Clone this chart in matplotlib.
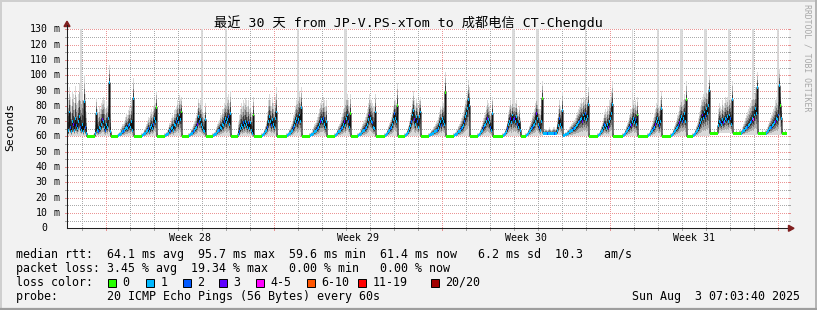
import numpy as np
import matplotlib
matplotlib.use("Agg")
import matplotlib.pyplot as plt
from matplotlib.patches import Polygon, Rectangle
from matplotlib.lines import Line2D

# ---------------- data (one sample per hour, 30 days) ----------------
med_ms = [
    62, 64, 76, 66, 63, 70, 68, 64, 72, 67, 65, 70, 73, 66, 64, 68, 63, 83, 66, 62,
    60, 60, 60, 60, 60, 60, 60, 60,
    62, 75, 64, 63, 66, 65, 68, 71, 70, 66, 64, 68, 66, 72, 95, 63,
    60, 60, 60, 60, 60, 60, 60,
    60.5, 61, 61, 62, 63, 63, 64, 65, 66, 65, 67, 68, 66, 70, 64, 85,
    60, 60, 60, 60, 60, 60, 60, 60,
    60.5, 61, 62, 62, 63, 64, 65, 63, 66, 67, 65, 68, 72, 70, 79,
    60, 60, 60, 60, 60, 60, 60, 60,
    60.5, 61, 61, 62, 64, 63, 65, 66, 64, 68, 67, 70, 72, 69, 74, 71, 76,
    60, 60, 60, 60, 60, 60, 60,
    60.5, 61, 62, 62, 63, 64, 65, 66, 68, 73, 70, 71, 68, 66, 64, 63, 71,
    60, 60, 60, 60, 60, 60, 60,
    60.5, 61, 61, 62, 63, 64, 64, 66, 65, 68, 67, 70, 72, 69, 71, 73, 68, 75,
    60, 60, 60, 60, 60, 60, 60,
    61, 63, 65, 67, 66, 69, 67, 70, 68, 66, 69, 65, 69, 64, 62, 74,
    60, 60, 60, 60, 60, 60, 60, 60,
    60.5, 61, 62, 63, 64, 66, 70, 73, 70, 67, 71, 68, 66, 72, 76,
    60, 60, 60, 60, 60, 60, 60, 60, 60, 60,
    60.5, 61, 62, 62, 63, 64, 66, 67, 70, 72, 69, 71, 74, 70, 79,
    60, 60, 60, 60, 60, 60, 60, 60,
    60.5, 61, 61, 62, 63, 63, 64, 65, 66, 68, 70, 71, 70, 72, 68, 66, 70,
    60, 60, 60, 60, 60, 60, 60, 60,
    60.5, 61, 62, 63, 63, 64, 65, 66, 68, 70, 67, 72, 74, 70, 66, 75,
    60, 60, 60, 60, 60, 60, 60,
    60.5, 61, 61, 62, 63, 64, 64, 65, 66, 68, 71, 74, 72, 70, 69, 66, 65, 76,
    60, 60, 60, 60, 60, 60, 60, 60, 60,
    60.5, 61, 62, 63, 64, 65, 66, 68, 71, 75, 72, 70, 80,
    60, 60, 60, 60, 60, 60, 60,
    60.5, 61, 62, 63, 65, 67, 70, 74, 77, 71, 68, 73, 70, 66, 73, 76,
    60, 60, 60, 60, 60, 60, 60, 60,
    60.5, 61, 61.5, 62, 62, 63, 63, 64, 64, 65, 68, 70, 67, 72, 70, 68, 89,
    60, 60, 60, 60, 60, 60, 60, 60,
    60.5, 61, 61, 62, 63, 63, 64, 65, 66, 67, 70, 73, 75, 78, 84, 80,
    60, 60, 60, 60, 60, 60, 60, 60,
    60.5, 61, 62, 63, 64, 66, 67, 68, 70, 72, 71, 69, 66, 64, 75,
    60, 60, 60, 60, 60, 60, 60, 60, 60, 60,
    60.5, 61, 62, 63, 65, 68, 70, 72, 69, 74, 71, 72, 70, 73, 68, 66, 70, 64,
    60, 60, 60, 60, 60,
    60.5, 61, 62, 63, 64, 65, 66, 67, 68, 70, 75, 72, 68, 66, 64, 70, 85,
    62, 62, 62, 62, 62, 62, 62, 62, 62, 62, 62, 62, 62, 62,
    64, 67, 72, 68, 66, 77,
    60.5, 60.5, 61, 61, 62, 62, 63, 63, 64, 64, 65, 65, 66, 67, 68, 69, 70, 71, 72, 70, 74, 72, 75, 71, 73, 81,
    60, 60, 60, 60, 60, 60, 60, 60, 60,
    60.5, 61, 62, 63, 64, 66, 68, 67, 65, 68, 66, 70, 72, 75, 81,
    60, 60, 60, 60, 60, 60, 60, 60, 60, 60,
    60.5, 61, 62, 63, 64, 65, 66, 68, 67, 70, 72, 69, 71, 68, 74,
    60, 60, 60, 60, 60, 60, 60, 60, 60, 60,
    60.5, 61, 62, 63, 64, 65, 66, 68, 70, 72, 69, 67, 70, 78,
    60, 60, 60, 60, 60, 60, 60, 60, 60,
    60.5, 61, 62, 63, 64, 65, 66, 67, 69, 71, 73, 70, 72, 75, 70, 84,
    60, 60, 60, 60, 60, 60,
    60.5, 61, 62, 63, 64, 65, 67, 69, 71, 74, 72, 76, 73, 78, 75, 80, 90,
    62, 62, 62, 62, 62, 62, 62, 62,
    67, 70, 69, 68, 71, 69, 70, 72, 71, 73, 70, 74, 72, 68, 84,
    62, 62, 62, 62, 62, 62, 62, 62,
    62, 63, 64, 64, 65, 66, 66, 67, 68, 69, 70, 72, 71, 74, 78, 75, 92,
    62, 62, 62, 62, 62, 62, 62, 62,
    62, 63, 64, 65, 66, 66, 67, 68, 69, 70, 72, 71, 74, 93, 80, 72,
    62, 62, 62, 62, 62,
]

hi_ms = [
    75, 84, 92, 86, 80, 90, 88, 82, 93, 86, 82, 88, 95, 90, 88, 90, 84, 100, 88, 76,
    61.5, 61, 61, 61, 61, 61, 61.5, 62,
    70, 85, 78, 76, 80, 78, 82, 84, 86, 84, 78, 83, 80, 84, 107, 75,
    62, 61, 61, 61, 61, 61, 61.5,
    62, 63, 64, 66, 68, 68, 70, 73, 75, 74, 77, 80, 78, 84, 80, 98,
    62, 61, 61, 61, 61, 61, 61, 62,
    62, 63, 65, 66, 68, 70, 73, 72, 76, 78, 76, 80, 84, 82, 90,
    62, 61, 61, 61, 61, 61, 61, 62,
    62, 63, 64, 66, 69, 69, 72, 74, 73, 77, 78, 80, 84, 82, 87, 85, 86,
    62, 61, 61, 61, 61, 61, 62,
    62, 63, 65, 66, 68, 70, 72, 74, 78, 85, 82, 84, 82, 80, 75, 74, 82,
    62, 61, 61, 61, 61, 61, 62,
    62, 63, 64, 66, 68, 70, 71, 74, 74, 78, 78, 82, 84, 84, 86, 88, 82, 90,
    62, 61, 61, 61, 61, 61, 62,
    70, 74, 78, 82, 80, 84, 82, 85, 84, 80, 84, 78, 82, 76, 72, 86,
    62, 61, 61, 61, 61, 61, 61, 62,
    62, 63, 65, 67, 70, 76, 84, 88, 84, 80, 86, 82, 80, 86, 92,
    62, 61, 61, 61, 61, 61, 61, 61, 61, 62,
    62, 63, 65, 66, 68, 70, 74, 76, 80, 84, 86, 88, 90, 86, 92,
    62, 61, 61, 61, 61, 61, 61, 62,
    62, 63, 64, 66, 68, 69, 71, 73, 75, 78, 82, 84, 82, 86, 84, 80, 84,
    62, 61, 61, 61, 61, 61, 61, 62,
    62, 63, 65, 67, 68, 70, 73, 75, 78, 82, 86, 88, 88, 84, 80, 88,
    62, 61, 61, 61, 61, 61, 62,
    62, 63, 64, 66, 68, 70, 71, 73, 75, 78, 82, 88, 86, 84, 82, 80, 80, 88,
    62, 61, 61, 61, 61, 61, 61, 61, 62,
    62, 63, 65, 67, 69, 71, 73, 76, 80, 86, 84, 82, 95,
    62, 61, 61, 61, 61, 61, 62,
    62, 63, 65, 67, 70, 74, 78, 84, 90, 84, 80, 85, 82, 78, 84, 86,
    62, 61, 61, 61, 61, 61, 61, 62,
    62, 63, 64, 65, 66, 67, 68, 70, 71, 73, 76, 80, 78, 83, 82, 80, 102,
    62, 61, 61, 61, 61, 61, 61, 62,
    62, 63, 64, 65, 67, 68, 70, 72, 74, 76, 80, 84, 86, 90, 97, 92,
    62, 61, 61, 61, 61, 61, 61, 62,
    62, 63, 65, 67, 69, 72, 74, 76, 80, 84, 82, 80, 76, 74, 86,
    62, 61, 61, 61, 61, 61, 61, 61, 61, 62,
    62, 63, 65, 67, 70, 76, 80, 84, 80, 84, 82, 82, 82, 84, 78, 76, 80, 72,
    62, 61, 61, 61, 62,
    62, 63, 65, 67, 69, 71, 74, 76, 78, 82, 86, 84, 82, 78, 78, 84, 96,
    64, 64, 65, 65, 64, 65, 66, 65, 64, 65, 66, 66, 65, 66,
    72, 78, 84, 80, 76, 90,
    62, 62, 63, 63, 64, 65, 66, 67, 68, 69, 70, 71, 72, 74, 76, 78, 80, 82, 85, 82, 86, 84, 88, 84, 86, 92,
    62, 61, 61, 61, 61, 61, 61, 61, 62,
    62, 63, 65, 67, 69, 72, 76, 78, 76, 80, 78, 84, 86, 90, 96,
    62, 61, 61, 61, 61, 61, 61, 61, 61, 62,
    62, 63, 65, 67, 69, 71, 74, 78, 78, 82, 84, 82, 84, 80, 86,
    62, 61, 61, 61, 61, 61, 61, 61, 61, 62,
    62, 63, 65, 67, 69, 72, 75, 78, 82, 84, 82, 80, 84, 90,
    62, 61, 61, 61, 61, 61, 61, 61, 62,
    62, 63, 65, 67, 69, 71, 74, 76, 80, 84, 86, 84, 84, 88, 84, 96,
    62, 61, 61, 61, 61, 62,
    62, 63, 65, 67, 69, 72, 76, 80, 84, 86, 88, 90, 90, 92, 88, 92, 100,
    64, 63, 63, 63, 64, 63, 63, 64,
    78, 82, 80, 78, 84, 80, 82, 86, 84, 86, 84, 88, 86, 80, 96,
    64, 63, 63, 64, 63, 63, 64, 64,
    64, 66, 68, 70, 72, 74, 76, 78, 80, 82, 84, 88, 90, 88, 92, 88, 102,
    64, 63, 63, 63, 64, 63, 63, 64,
    64, 66, 68, 70, 72, 74, 76, 78, 80, 84, 86, 84, 86, 104, 92, 82,
    64, 63, 63, 64, 63,
]

lo_ms = [
    60.5, 60.5, 60.5, 60.5, 60.5, 60.5, 60.5, 60.5, 60.5, 60.5, 60.5, 60.5, 60.5, 60.5, 60.5, 60.5, 60.5, 60.5, 60.5, 60.5,
    59.6, 59.6, 59.6, 59.6, 59.6, 59.6, 59.6, 59.6,
    60, 60, 60, 60, 60, 60, 60, 60, 60, 60, 60, 60, 60, 60, 60, 60,
    59.6, 59.6, 59.6, 59.6, 59.6, 59.6, 59.6,
    60, 60, 60, 60, 60, 60, 60, 60, 60, 60, 60, 60, 60, 60, 60, 60,
    59.6, 59.6, 59.6, 59.6, 59.6, 59.6, 59.6, 59.6,
    60, 60, 60, 60, 60, 60, 60, 60, 60, 60, 60, 60, 60, 60, 60,
    59.6, 59.6, 59.6, 59.6, 59.6, 59.6, 59.6, 59.6,
    60, 60, 60, 60, 60, 60, 60, 60, 60, 60, 60, 60, 60, 60, 60, 60, 60,
    59.6, 59.6, 59.6, 59.6, 59.6, 59.6, 59.6,
    60, 60, 60, 60, 60, 60, 60, 60, 60, 60, 60, 60, 60, 60, 60, 60, 60,
    59.6, 59.6, 59.6, 59.6, 59.6, 59.6, 59.6,
    60, 60, 60, 60, 60, 60, 60, 60, 60, 60, 60, 60, 60, 60, 60, 60, 60, 60,
    59.6, 59.6, 59.6, 59.6, 59.6, 59.6, 59.6,
    60, 60, 60, 60, 60, 60, 60, 60, 60, 60, 60, 60, 60, 60, 60, 60,
    59.6, 59.6, 59.6, 59.6, 59.6, 59.6, 59.6, 59.6,
    60, 60, 60, 60, 60, 60, 60, 60, 60, 60, 60, 60, 60, 60, 60,
    59.6, 59.6, 59.6, 59.6, 59.6, 59.6, 59.6, 59.6, 59.6, 59.6,
    60, 60, 60, 60, 60, 60, 60, 60, 60, 60, 60, 60, 60, 60, 60,
    59.6, 59.6, 59.6, 59.6, 59.6, 59.6, 59.6, 59.6,
    60, 60, 60, 60, 60, 60, 60, 60, 60, 60, 60, 60, 60, 60, 60, 60, 60,
    59.6, 59.6, 59.6, 59.6, 59.6, 59.6, 59.6, 59.6,
    60, 60, 60, 60, 60, 60, 60, 60, 60, 60, 60, 60, 60, 60, 60, 60,
    59.6, 59.6, 59.6, 59.6, 59.6, 59.6, 59.6,
    60, 60, 60, 60, 60, 60, 60, 60, 60, 60, 60, 60, 60, 60, 60, 60, 60, 60,
    59.6, 59.6, 59.6, 59.6, 59.6, 59.6, 59.6, 59.6, 59.6,
    60, 60, 60, 60, 60, 60, 60, 60, 60, 60, 60, 60, 60,
    59.6, 59.6, 59.6, 59.6, 59.6, 59.6, 59.6,
    60, 60, 60, 60, 60, 60, 60, 60, 60, 60, 60, 60, 60, 60, 60, 60,
    59.6, 59.6, 59.6, 59.6, 59.6, 59.6, 59.6, 59.6,
    60, 60, 60, 60, 60, 60, 60, 60, 60, 60, 60, 60, 60, 60, 60, 60, 60,
    59.6, 59.6, 59.6, 59.6, 59.6, 59.6, 59.6, 59.6,
    60, 60, 60, 60, 60, 60, 60, 60, 60, 60, 60, 60, 60, 60, 60, 60,
    59.6, 59.6, 59.6, 59.6, 59.6, 59.6, 59.6, 59.6,
    60, 60, 60, 60, 60, 60, 60, 60, 60, 60, 60, 60, 60, 60, 60,
    59.6, 59.6, 59.6, 59.6, 59.6, 59.6, 59.6, 59.6, 59.6, 59.6,
    60, 60, 60, 60, 60, 60, 60, 60, 60, 60, 60, 60, 60, 60, 60, 60, 60, 60,
    59.6, 59.6, 59.6, 59.6, 59.6,
    60, 60, 60, 60, 60, 60, 60, 60, 60, 60, 60, 60, 60, 60, 60, 60, 60,
    61, 61, 61, 61, 61, 61, 61, 61, 61, 61, 61, 61, 61, 61,
    61, 61, 61, 61, 61, 61,
    60, 60, 60, 60, 60, 60, 60, 60, 60, 60, 60, 60, 60, 60, 60, 60, 60, 60, 60, 60, 60, 60, 60, 60, 60, 60,
    59.6, 59.6, 59.6, 59.6, 59.6, 59.6, 59.6, 59.6, 59.6,
    60, 60, 60, 60, 60, 60, 60, 60, 60, 60, 60, 60, 60, 60, 60,
    59.6, 59.6, 59.6, 59.6, 59.6, 59.6, 59.6, 59.6, 59.6, 59.6,
    60, 60, 60, 60, 60, 60, 60, 60, 60, 60, 60, 60, 60, 60, 60,
    59.6, 59.6, 59.6, 59.6, 59.6, 59.6, 59.6, 59.6, 59.6, 59.6,
    60, 60, 60, 60, 60, 60, 60, 60, 60, 60, 60, 60, 60, 60,
    59.6, 59.6, 59.6, 59.6, 59.6, 59.6, 59.6, 59.6, 59.6,
    60, 60, 60, 60, 60, 60, 60, 60, 60, 60, 60, 60, 60, 60, 60, 60,
    59.6, 59.6, 59.6, 59.6, 59.6, 59.6,
    60, 60, 60, 60, 60, 60, 60, 60, 60, 60, 60, 60, 60, 60, 60, 60, 60,
    61, 61, 61, 61, 61, 61, 61, 61,
    62, 62, 62, 62, 62, 62, 62, 62, 62, 62, 62, 62, 62, 62, 62,
    61, 61, 61, 61, 61, 61, 61, 61,
    61, 61, 61, 61, 61, 61, 61, 61, 61, 61, 61, 61, 61, 61, 61, 61, 61,
    61, 61, 61, 61, 61, 61, 61, 61,
    61, 61, 61, 61, 61, 61, 61, 61, 61, 61, 61, 61, 61, 61, 61, 61,
    61, 61, 61, 61, 61,
]

# lost-ping class per hour: 0 -> "0", 1 -> "1", 2 -> "2", 3 -> "3", 4 -> "4-5" ...
loss_cls = [
    1, 1, 1, 2, 1, 1, 3, 1, 1, 2, 1, 1, 1, 2, 1, 1, 1, 1, 2, 1,
    0, 0, 0, 0, 0, 0, 0, 0,
    1, 1, 1, 2, 1, 1, 1, 3, 1, 1, 2, 1, 1, 1, 1, 1,
    0, 0, 0, 0, 0, 0, 0,
    1, 1, 1, 1, 1, 2, 1, 1, 1, 1, 2, 1, 1, 1, 1, 1,
    0, 0, 0, 0, 0, 0, 0, 0,
    1, 1, 1, 1, 1, 1, 2, 1, 1, 1, 1, 2, 1, 1, 0,
    0, 0, 0, 0, 0, 0, 0, 0,
    1, 1, 1, 1, 1, 2, 1, 1, 1, 1, 1, 2, 1, 1, 1, 1, 0,
    0, 0, 0, 0, 0, 0, 0,
    1, 1, 1, 1, 2, 1, 1, 1, 3, 1, 2, 1, 1, 1, 1, 1, 1,
    0, 0, 0, 0, 0, 0, 0,
    1, 1, 1, 1, 1, 1, 2, 1, 1, 1, 1, 2, 1, 1, 1, 2, 1, 1,
    0, 0, 0, 0, 0, 0, 0,
    1, 2, 1, 1, 1, 2, 1, 1, 1, 1, 2, 1, 1, 1, 1, 0,
    0, 0, 0, 0, 0, 0, 0, 0,
    1, 1, 1, 1, 1, 2, 1, 1, 1, 2, 1, 1, 1, 1, 1,
    0, 0, 0, 0, 0, 0, 0, 0, 0, 0,
    1, 1, 1, 1, 1, 1, 2, 1, 1, 1, 2, 1, 1, 1, 1,
    0, 0, 0, 0, 0, 0, 0, 0,
    1, 1, 1, 1, 1, 1, 1, 2, 1, 1, 3, 1, 1, 2, 1, 1, 1,
    0, 0, 0, 0, 0, 0, 0, 0,
    1, 1, 1, 1, 1, 1, 2, 1, 1, 3, 1, 1, 1, 2, 1, 0,
    0, 0, 0, 0, 0, 0, 0,
    1, 1, 1, 1, 1, 1, 1, 2, 1, 1, 1, 3, 1, 1, 2, 1, 1, 1,
    0, 0, 0, 0, 0, 0, 0, 0, 0,
    1, 1, 1, 1, 1, 2, 1, 1, 1, 2, 1, 1, 0,
    0, 0, 0, 0, 0, 0, 0,
    1, 1, 1, 1, 1, 1, 2, 1, 1, 3, 1, 1, 2, 1, 1, 1,
    0, 0, 0, 0, 0, 0, 0, 0,
    1, 1, 1, 1, 1, 1, 1, 1, 2, 1, 1, 1, 2, 1, 1, 1, 0,
    0, 0, 0, 0, 0, 0, 0, 0,
    1, 1, 1, 1, 1, 1, 1, 2, 1, 1, 2, 1, 1, 1, 1, 1,
    0, 0, 0, 0, 0, 0, 0, 0,
    1, 1, 1, 1, 1, 2, 1, 1, 1, 3, 1, 1, 2, 1, 1,
    0, 0, 0, 0, 0, 0, 0, 0, 0, 0,
    1, 1, 1, 1, 2, 1, 1, 3, 1, 1, 2, 3, 1, 1, 2, 1, 1, 1,
    0, 0, 0, 0, 0,
    1, 1, 1, 1, 1, 1, 2, 1, 1, 1, 3, 1, 1, 2, 1, 1, 0,
    1, 1, 1, 1, 2, 1, 1, 1, 1, 1, 1, 2, 1, 1,
    1, 1, 2, 1, 1, 1,
    1, 1, 1, 1, 1, 1, 1, 1, 1, 1, 2, 1, 1, 1, 1, 1, 2, 1, 1, 3, 1, 1, 2, 1, 1, 1,
    0, 0, 0, 0, 0, 0, 0, 0, 0,
    1, 1, 1, 1, 1, 1, 2, 1, 1, 1, 3, 1, 1, 1, 1,
    0, 0, 0, 0, 0, 0, 0, 0, 0, 0,
    1, 1, 1, 1, 1, 1, 2, 1, 3, 1, 1, 1, 2, 1, 0,
    0, 0, 0, 0, 0, 0, 0, 0, 0, 0,
    1, 1, 1, 1, 1, 2, 1, 3, 1, 1, 1, 2, 1, 1,
    0, 0, 0, 0, 0, 0, 0, 0, 0,
    1, 1, 1, 1, 1, 1, 1, 2, 3, 1, 1, 2, 1, 1, 1, 0,
    0, 0, 0, 0, 0, 0,
    1, 1, 1, 1, 1, 1, 2, 1, 1, 3, 1, 1, 2, 1, 1, 1, 1,
    0, 0, 0, 0, 0, 0, 0, 0,
    1, 1, 2, 1, 1, 3, 1, 1, 2, 1, 1, 1, 2, 1, 1,
    0, 0, 0, 0, 0, 0, 0, 0,
    1, 1, 1, 1, 1, 1, 2, 1, 1, 1, 2, 1, 4, 1, 1, 1, 1,
    0, 0, 0, 0, 0, 0, 0, 0,
    1, 1, 1, 1, 1, 2, 1, 1, 1, 3, 1, 1, 2, 1, 0, 1,
    0, 0, 0, 0, 0,
]

# hours in which at least one ping went above the top of the graph
overflow_hours = [13, 14, 134, 135, 158, 159, 230, 231, 277, 278, 279, 445, 446, 447,
                  469, 470, 471, 518, 565, 590, 591, 613, 614, 615, 637, 638, 639,
                  661, 662, 685, 686, 710, 711]

loss_labels = ['0', '1', '2', '3', '4-5', '6-10', '11-19', '20/20']
loss_colors = ['#26ff00', '#00b8ff', '#0059ff', '#5e00ff', '#ff00fe', '#ff5500', '#ff0000', '#a10000']
week_labels = ['Week 28', 'Week 29', 'Week 30', 'Week 31']
y_ticks_ms = list(range(0, 131, 10))

title = '最近 30 天 from JP-V.PS-xTom to 成都电信 CT-Chengdu'
legend_rtt = 'median rtt:  64.1 ms avg  95.7 ms max  59.6 ms min  61.4 ms now   6.2 ms sd  10.3   am/s'
legend_loss = 'packet loss: 3.45 % avg  19.34 % max   0.00 % min   0.00 % now'
legend_probe = 'probe:       20 ICMP Echo Pings (56 Bytes) every 60s'
stamp_text = 'Sun Aug  3 07:03:40 2025'

# ---------------- layout ----------------
W, H = 817, 310
MONO = ['DejaVu Sans Mono', 'Noto Sans CJK SC']
AX_L, AX_R, AX_T, AX_B = 67, 788, 29.3, 228.3
SPAN_H = AX_R - AX_L          # hours shown (1 px per hour)
FIRST_DAY, FIRST_WEEK = 15, 39
BACK = (0.95, 0.95, 0.95)
GRID_RGBA = (0.56, 0.56, 0.56, 0.75)
MGRID_RGBA = (0.87, 0.31, 0.31, 0.60)
ARROW = '#801f1f'
AXIS = '#1f1f1f'


def fxy(x, y):
    return (x / W, 1 - y / H)


def over(base, rgba):
    a = rgba[3]
    return tuple(a * rgba[i] + (1 - a) * base[i] for i in range(3)) + (1.0,)


fig = plt.figure(figsize=(W / 100, H / 100), dpi=100)
fig.patch.set_facecolor(BACK)
ax = fig.add_axes([AX_L / W, 1 - AX_B / H, SPAN_H / W, (AX_B - AX_T) / H])
ax.set_xlim(0, SPAN_H)
ax.set_ylim(0, 130)
ax.patch.set_visible(False)

n = min(len(med_ms), len(hi_ms), len(lo_ms), len(loss_cls))
med = np.array(med_ms[:n], float)
hi = np.array(hi_ms[:n], float)
lo = np.array(lo_ms[:n], float)
loss = np.array(loss_cls[:n], int)
xs = np.arange(n)

# canvas + rrdtool-style dotted grid + ticks, pixel exact, drawn under the data
canvas = np.zeros((H, W, 4))
px_per_ms = (AX_B - AX_T) / 130
top_row = int(round(AX_T))
bot_row = int(round(AX_B))
canvas[top_row:bot_row + 1, AX_L:AX_R + 1] = (1, 1, 1, 1)
day_lines = list(range(FIRST_DAY, SPAN_H, 24))
week_lines = list(range(FIRST_WEEK, SPAN_H, 168))
for v in range(5, 131, 5):
    r = int(round(AX_B - v * px_per_ms))
    g = MGRID_RGBA if v % 10 == 0 else GRID_RGBA
    canvas[r, AX_L + 1:AX_R + 1:2] = over((1, 1, 1), g)
    canvas[r, AX_L - 2:AX_L] = over(BACK, g)
    canvas[r, AX_R + 1:AX_R + 3] = over(BACK, g)
for d in day_lines:
    c = AX_L + d
    g = MGRID_RGBA if d in week_lines else GRID_RGBA
    canvas[top_row:bot_row:2, c] = over((1, 1, 1), g)
    canvas[bot_row + 1:bot_row + 3, c] = over(BACK, g)
fig.figimage(canvas, xo=0, yo=0, origin='upper', zorder=-1)

# overflow stripes
ov = np.array([h for h in overflow_hours if h < n], int)
ax.bar(ov, 130 - med[ov], bottom=med[ov], width=1, align='edge', color='#d6d6d6',
       linewidth=0, antialiased=False, zorder=1.2, alpha=0.9)

# smoke
for f, c in zip([1.0, 0.72, 0.48, 0.28], ['#d9d9d9', '#adadad', '#767676', '#3c3c3c']):
    b = med - f * (med - lo)
    t = med + f * (hi - med)
    ax.bar(xs, t - b, bottom=b, width=1, align='edge', color=c, linewidth=0,
           antialiased=False, zorder=2)

# median step line and loss-coloured median
ax.stairs(med, np.arange(n + 1), baseline=None, color='#111111', lw=0.8, zorder=3)
ax.bar(xs, 1.9, bottom=med - 0.95, width=1, align='edge',
       color=[loss_colors[k] for k in loss], linewidth=0, antialiased=False, zorder=4)

# axes
for s in ['top', 'right']:
    ax.spines[s].set_visible(False)
for s in ['left', 'bottom']:
    ax.spines[s].set_linewidth(0.75)
    ax.spines[s].set_color(AXIS)
    ax.spines[s].set_zorder(6)
ax.set_xticks([])
ax.set_yticks([])

# arrows
fig.add_artist(Line2D([AX_L / W, AX_L / W], [1 - AX_T / H, 1 - 25 / H], color=AXIS, lw=0.75))
fig.add_artist(Polygon([fxy(AX_L, 21.2), fxy(AX_L - 3, 26.5), fxy(AX_L + 3, 26.5)],
                       closed=True, color=ARROW, transform=fig.transFigure))
fig.add_artist(Polygon([fxy(794, AX_B), fxy(788.5, AX_B - 3), fxy(788.5, AX_B + 3)],
                       closed=True, color=ARROW, transform=fig.transFigure))

# y labels
for v in y_ticks_ms:
    yp = AX_B - v * px_per_ms
    fig.text(47.6 / W, 1 - yp / H, f'{v}', ha='right', va='center', fontsize=7.1, family=MONO)
    if v > 0:
        fig.text(53.8 / W, 1 - yp / H, 'm', ha='left', va='center', fontsize=7.1, family=MONO)

# week labels
for k, lab in enumerate(week_labels):
    xc = AX_L + FIRST_WEEK + 84 + 168 * k
    fig.text(xc / W, 1 - 237.7 / H, lab, ha='center', va='center', fontsize=7.1, family=MONO)

fig.text(408.5 / W, 1 - 22.3 / H, title, ha='center', va='center', fontsize=9.5, family=MONO)
fig.text(10.5 / W, 1 - 127 / H, 'Seconds', rotation=90, ha='center', va='center',
         fontsize=8.2, family=MONO)
fig.text(807.5 / W, 1 - 4.5 / H, 'RRDTOOL / TOBI OETIKER', rotation=270, ha='center',
         va='top', fontsize=5.9, family=MONO, color='#a8a8a8')

# legend
LFS = 8.4
fig.text(15.5 / W, 1 - 254.3 / H, legend_rtt, ha='left', va='center', fontsize=LFS, family=MONO)
fig.text(15.5 / W, 1 - 268.3 / H, legend_loss, ha='left', va='center', fontsize=LFS, family=MONO)
fig.text(15.5 / W, 1 - 282.3 / H, 'loss color:', ha='left', va='center', fontsize=LFS, family=MONO)
box_x = [108, 146, 183, 219, 256, 307, 358, 431]
for lab, col, bx in zip(loss_labels, loss_colors, box_x):
    fig.add_artist(Rectangle(fxy(bx, 286.5), 7.5 / W, 8 / H, facecolor=col, edgecolor='k',
                             lw=0.7, transform=fig.transFigure))
    fig.text((bx + 14.5) / W, 1 - 282.3 / H, lab, ha='left', va='center', fontsize=LFS, family=MONO)
fig.text(15.5 / W, 1 - 296.2 / H, legend_probe, ha='left', va='center', fontsize=LFS, family=MONO)
fig.text(800.5 / W, 1 - 296.2 / H, stamp_text, ha='right', va='center', fontsize=LFS, family=MONO)

# frame (rrdtool shade A / shade B)
fig.add_artist(Line2D([0, 1], [1 - 0.8 / H] * 2, color='#cfcfcf', lw=1.4))
fig.add_artist(Line2D([0.8 / W] * 2, [0, 1], color='#cfcfcf', lw=1.4))
fig.add_artist(Line2D([1 - 1 / W] * 2, [0, 1], color='#b4b4b4', lw=1.4))
fig.add_artist(Line2D([0, 1], [1 / H] * 2, color='#9e9e9e', lw=1.6))

fig.savefig('out.png', dpi=100, facecolor=fig.get_facecolor())
